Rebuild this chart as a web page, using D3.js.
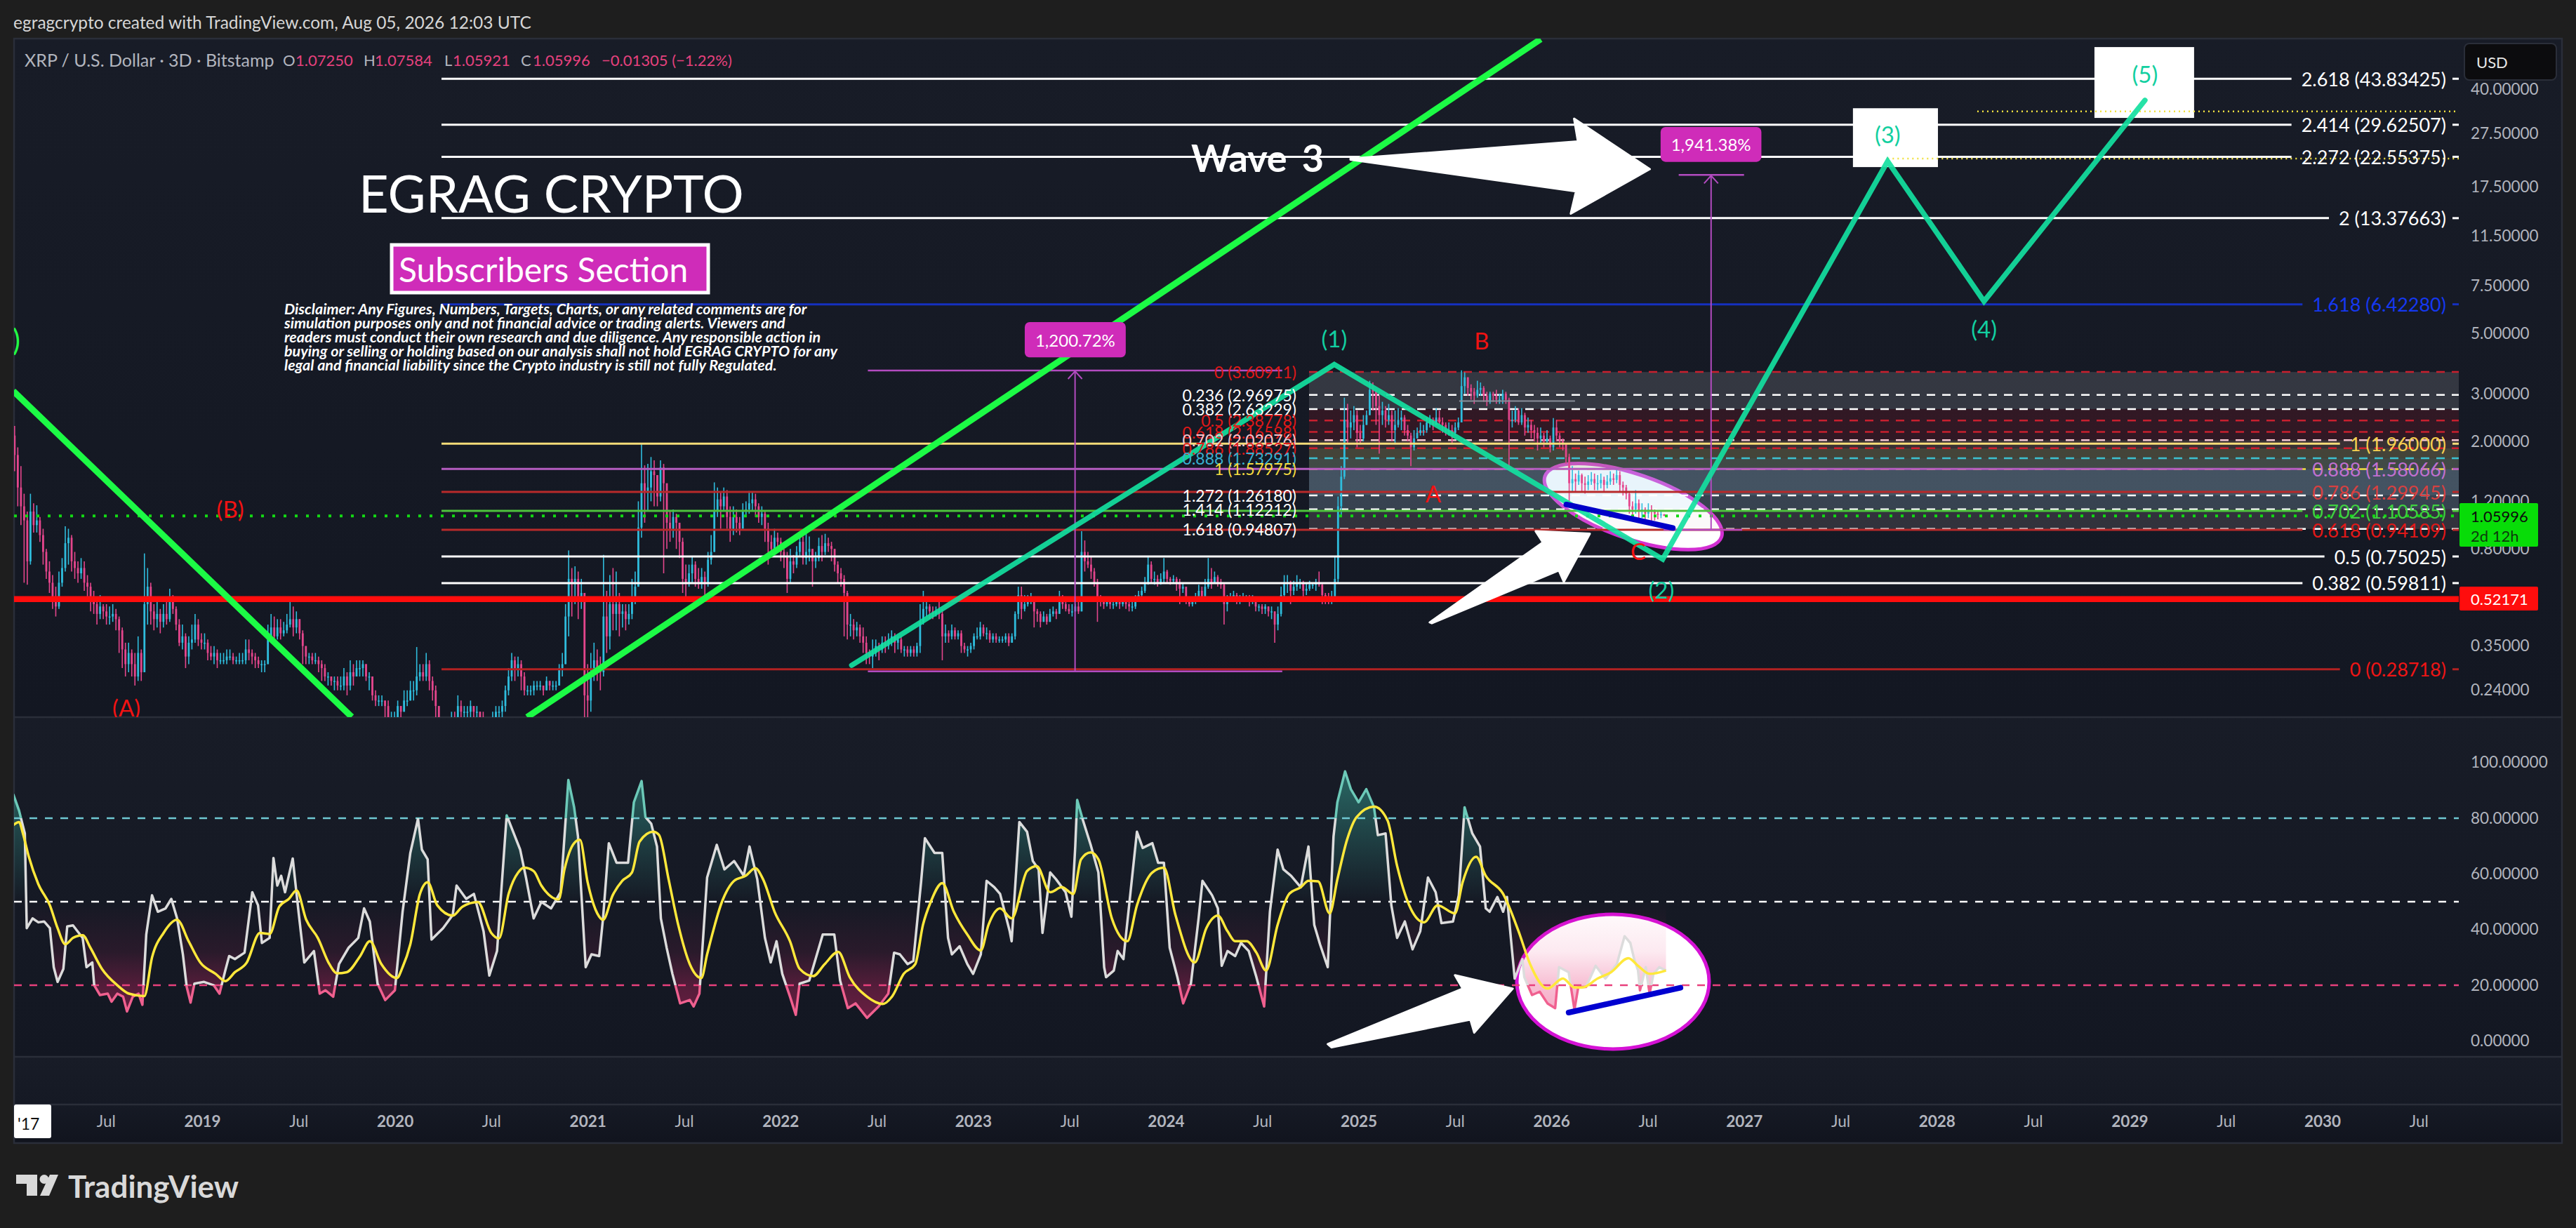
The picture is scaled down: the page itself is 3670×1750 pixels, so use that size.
<!DOCTYPE html>
<html>
<head>
  <meta charset="utf-8">
  <script src="https://cdn.jsdelivr.net/npm/d3@7"></script>
  <style type="text/css">
    html, body { margin: 0; padding: 0; background: #1e1e1e; }
    svg { display: block; font-family: Lato, "Open Sans", sans-serif; }
    .axis path { display: none; }
    .axis text { fill: #b2b5be; font-size: 22.5px; font-family: Lato, sans-serif; }
  </style>
</head>
<body>
<script type="text/javascript">

// 3D price bars, one every 6 days from 2018.027 (10 bars per row)
const barCloses = [
  1.78,1.35,1.15,1.02,0.72,1.10,0.98,1.02,0.90,0.78,
  0.66,0.60,0.52,0.49,0.60,0.68,0.84,0.88,0.72,0.68,
  0.65,0.68,0.60,0.58,0.52,0.50,0.46,0.49,0.47,0.45,
  0.45,0.46,0.44,0.40,0.34,0.30,0.33,0.30,0.27,0.33,
  0.28,0.50,0.58,0.47,0.44,0.46,0.43,0.46,0.44,0.52,
  0.48,0.42,0.36,0.38,0.32,0.36,0.37,0.42,0.37,0.36,
  0.36,0.33,0.32,0.33,0.31,0.31,0.31,0.32,0.32,0.31,
  0.31,0.31,0.31,0.34,0.33,0.32,0.31,0.30,0.30,0.30,
  0.37,0.41,0.38,0.41,0.39,0.40,0.42,0.44,0.41,0.44,
  0.39,0.35,0.32,0.32,0.31,0.31,0.30,0.29,0.27,0.27,
  0.26,0.26,0.25,0.25,0.27,0.25,0.28,0.27,0.29,0.29,
  0.30,0.27,0.27,0.23,0.22,0.22,0.22,0.21,0.19,0.19,
  0.19,0.21,0.20,0.22,0.22,0.24,0.24,0.27,0.28,0.27,
  0.30,0.26,0.24,0.21,0.15,0.15,0.17,0.18,0.19,0.18,
  0.21,0.20,0.20,0.20,0.21,0.20,0.20,0.19,0.18,0.18,
  0.18,0.19,0.20,0.20,0.21,0.24,0.27,0.31,0.29,0.30,
  0.27,0.24,0.24,0.24,0.25,0.25,0.25,0.24,0.26,0.25,
  0.25,0.25,0.29,0.30,0.45,0.62,0.60,0.62,0.52,0.55,
  0.23,0.22,0.28,0.31,0.29,0.28,0.45,0.38,0.50,0.46,
  0.50,0.46,0.47,0.44,0.46,0.52,0.58,0.96,1.40,1.30,
  1.35,1.55,1.50,1.25,1.60,1.40,1.00,0.95,1.05,1.00,
  0.85,0.62,0.60,0.65,0.70,0.62,0.60,0.63,0.60,0.73,
  0.78,1.10,1.22,1.15,1.25,1.05,0.95,1.05,1.00,0.95,
  1.10,1.12,1.18,1.22,1.15,1.05,1.08,0.95,0.85,0.80,
  0.88,0.85,0.78,0.75,0.62,0.72,0.70,0.78,0.85,0.74,
  0.78,0.80,0.72,0.74,0.82,0.78,0.84,0.82,0.80,0.70,
  0.65,0.62,0.55,0.42,0.42,0.40,0.41,0.38,0.36,0.33,
  0.32,0.33,0.35,0.34,0.36,0.35,0.37,0.38,0.36,0.37,
  0.34,0.34,0.33,0.34,0.33,0.35,0.43,0.48,0.49,0.47,
  0.46,0.47,0.46,0.38,0.39,0.38,0.40,0.38,0.39,0.35,
  0.34,0.34,0.35,0.38,0.38,0.41,0.39,0.39,0.37,0.38,
  0.37,0.37,0.37,0.38,0.36,0.38,0.46,0.54,0.48,0.50,
  0.51,0.52,0.47,0.46,0.43,0.45,0.43,0.46,0.47,0.46,
  0.52,0.50,0.48,0.47,0.47,0.49,0.47,0.78,0.72,0.70,
  0.66,0.60,0.52,0.51,0.50,0.52,0.50,0.50,0.51,0.50,
  0.51,0.50,0.49,0.49,0.52,0.54,0.56,0.60,0.70,0.62,
  0.62,0.60,0.62,0.66,0.62,0.61,0.62,0.60,0.57,0.58,
  0.52,0.50,0.51,0.53,0.56,0.53,0.58,0.62,0.60,0.63,
  0.60,0.59,0.50,0.52,0.53,0.54,0.52,0.52,0.52,0.53,
  0.51,0.52,0.49,0.49,0.48,0.49,0.47,0.47,0.42,0.46,
  0.54,0.60,0.60,0.56,0.58,0.60,0.60,0.56,0.57,0.59,
  0.59,0.60,0.59,0.54,0.53,0.52,0.53,0.62,1.15,1.48,
  2.40,2.25,2.35,2.50,2.15,2.05,2.30,2.50,3.10,3.05,
  2.70,2.50,2.60,2.40,2.50,2.20,2.30,2.40,2.45,2.20,
  2.10,1.90,2.05,2.15,2.20,2.20,2.35,2.40,2.30,2.45,
  2.35,2.30,2.20,2.20,2.15,2.25,2.35,3.20,3.45,3.15,
  3.05,2.95,3.10,3.15,2.95,2.80,3.00,2.95,2.85,2.85,
  3.00,2.85,2.40,2.40,2.60,2.35,2.50,2.25,2.30,2.20,
  2.15,2.05,2.10,2.00,2.05,1.90,2.25,2.10,2.00,1.95,
  1.75,1.40,1.45,1.42,1.50,1.40,1.38,1.42,1.45,1.40,
  1.40,1.44,1.38,1.42,1.46,1.44,1.50,1.38,1.35,1.28,
  1.15,1.12,1.18,1.10,1.12,1.08,1.12,1.10,1.08,1.07,
  1.075,1.06
];
const barHighs = [
  2.28,1.90,1.62,1.28,1.10,1.28,1.18,1.16,1.05,0.95,
  0.80,0.72,0.64,0.58,0.66,0.74,0.97,0.95,0.90,0.78,
  0.72,0.74,0.72,0.64,0.60,0.56,0.52,0.54,0.50,0.50,
  0.49,0.50,0.48,0.45,0.41,0.36,0.36,0.34,0.33,0.38,
  0.34,0.77,0.68,0.60,0.50,0.52,0.48,0.50,0.52,0.57,
  0.54,0.49,0.44,0.42,0.39,0.38,0.42,0.46,0.44,0.39,
  0.39,0.37,0.35,0.35,0.34,0.33,0.33,0.34,0.34,0.33,
  0.32,0.33,0.33,0.37,0.37,0.34,0.33,0.32,0.31,0.31,
  0.42,0.46,0.45,0.44,0.44,0.43,0.46,0.51,0.49,0.47,
  0.44,0.40,0.35,0.33,0.33,0.33,0.32,0.31,0.30,0.28,
  0.27,0.27,0.27,0.27,0.29,0.28,0.31,0.30,0.31,0.31,
  0.31,0.30,0.28,0.27,0.24,0.23,0.23,0.22,0.22,0.20,
  0.20,0.22,0.21,0.24,0.24,0.26,0.26,0.347,0.30,0.30,
  0.33,0.31,0.27,0.25,0.21,0.18,0.18,0.19,0.20,0.20,
  0.23,0.22,0.21,0.21,0.22,0.21,0.21,0.20,0.20,0.19,
  0.19,0.20,0.21,0.21,0.22,0.25,0.29,0.33,0.32,0.32,
  0.31,0.28,0.25,0.25,0.26,0.26,0.26,0.25,0.27,0.26,
  0.26,0.26,0.30,0.33,0.50,0.79,0.68,0.69,0.66,0.62,
  0.50,0.30,0.33,0.36,0.34,0.32,0.76,0.56,0.64,0.68,
  0.66,0.55,0.50,0.50,0.50,0.62,0.66,1.20,1.96,1.63,
  1.65,1.75,1.70,1.50,1.70,1.65,1.20,1.10,1.12,1.08,
  0.95,0.88,0.70,0.70,0.75,0.72,0.68,0.68,0.66,0.78,
  0.90,1.41,1.35,1.30,1.35,1.32,1.15,1.15,1.12,1.05,
  1.18,1.20,1.31,1.30,1.28,1.18,1.15,1.10,1.00,0.90,
  0.95,0.92,0.88,0.80,0.78,0.80,0.76,0.82,0.91,0.89,
  0.92,0.89,0.80,0.78,0.88,0.90,0.91,0.88,0.85,0.80,
  0.72,0.68,0.64,0.56,0.46,0.44,0.43,0.42,0.41,0.38,
  0.34,0.37,0.37,0.36,0.38,0.38,0.39,0.40,0.39,0.38,
  0.38,0.35,0.35,0.35,0.35,0.36,0.50,0.56,0.52,0.50,
  0.49,0.49,0.52,0.48,0.42,0.40,0.42,0.41,0.40,0.40,
  0.36,0.35,0.36,0.39,0.41,0.43,0.42,0.41,0.40,0.39,
  0.39,0.38,0.38,0.39,0.39,0.39,0.47,0.58,0.58,0.54,
  0.54,0.55,0.53,0.48,0.47,0.47,0.46,0.48,0.49,0.48,
  0.56,0.54,0.53,0.50,0.50,0.50,0.52,0.93,0.86,0.78,
  0.75,0.68,0.62,0.54,0.53,0.53,0.52,0.52,0.53,0.52,
  0.53,0.52,0.51,0.51,0.54,0.56,0.58,0.63,0.75,0.72,
  0.66,0.64,0.65,0.74,0.67,0.63,0.64,0.63,0.62,0.60,
  0.55,0.53,0.52,0.55,0.59,0.58,0.62,0.74,0.68,0.66,
  0.64,0.62,0.60,0.54,0.55,0.56,0.55,0.54,0.55,0.54,
  0.54,0.54,0.52,0.50,0.50,0.50,0.49,0.49,0.47,0.49,
  0.58,0.64,0.64,0.61,0.61,0.64,0.62,0.61,0.60,0.61,
  0.60,0.62,0.66,0.60,0.55,0.55,0.56,0.75,1.25,1.62,
  2.90,2.75,2.60,2.70,2.60,2.30,2.50,2.60,3.35,3.30,
  3.10,2.95,2.80,2.70,2.75,2.60,2.60,2.65,2.60,2.50,
  2.30,2.15,2.20,2.25,2.35,2.30,2.45,2.50,2.45,2.65,
  2.60,2.45,2.35,2.35,2.30,2.35,2.45,3.66,3.60,3.45,
  3.25,3.15,3.35,3.30,3.20,3.05,3.05,3.05,3.10,3.00,
  3.10,3.05,2.90,2.60,2.70,2.65,2.65,2.55,2.45,2.40,
  2.30,2.25,2.25,2.15,2.20,2.10,2.44,2.40,2.15,2.05,
  1.95,1.80,1.62,1.52,1.56,1.52,1.48,1.50,1.54,1.52,
  1.50,1.52,1.48,1.50,1.55,1.52,1.58,1.55,1.42,1.38,
  1.30,1.20,1.32,1.22,1.18,1.14,1.18,1.16,1.12,1.10,
  1.10,1.076
];
const barLows = [
  1.55,1.15,0.98,0.60,0.59,0.70,0.92,0.92,0.85,0.70,
  0.62,0.55,0.48,0.45,0.48,0.58,0.66,0.70,0.66,0.62,
  0.60,0.62,0.56,0.52,0.47,0.46,0.42,0.44,0.44,0.42,
  0.42,0.43,0.40,0.33,0.29,0.27,0.28,0.27,0.25,0.26,
  0.26,0.28,0.42,0.42,0.40,0.41,0.39,0.41,0.42,0.43,
  0.46,0.40,0.35,0.34,0.29,0.30,0.34,0.36,0.35,0.34,
  0.34,0.31,0.31,0.30,0.29,0.30,0.30,0.30,0.31,0.30,
  0.30,0.30,0.30,0.30,0.31,0.30,0.29,0.29,0.28,0.28,
  0.30,0.36,0.36,0.37,0.37,0.38,0.39,0.41,0.38,0.39,
  0.37,0.30,0.30,0.30,0.30,0.30,0.28,0.26,0.26,0.25,
  0.25,0.24,0.24,0.24,0.24,0.23,0.24,0.25,0.27,0.27,
  0.27,0.26,0.24,0.22,0.21,0.21,0.21,0.19,0.18,0.18,
  0.18,0.19,0.19,0.20,0.21,0.22,0.22,0.23,0.26,0.26,
  0.26,0.24,0.22,0.19,0.11,0.13,0.14,0.16,0.17,0.17,
  0.18,0.19,0.19,0.19,0.19,0.19,0.19,0.17,0.17,0.17,
  0.17,0.17,0.18,0.19,0.19,0.20,0.23,0.26,0.26,0.27,
  0.24,0.23,0.23,0.23,0.23,0.24,0.24,0.23,0.24,0.24,
  0.24,0.24,0.25,0.27,0.30,0.38,0.45,0.50,0.44,0.48,
  0.19,0.17,0.20,0.26,0.26,0.24,0.27,0.33,0.34,0.40,
  0.40,0.38,0.41,0.40,0.42,0.44,0.50,0.58,0.88,1.00,
  1.10,1.20,1.15,1.15,1.20,0.65,0.80,0.85,0.88,0.80,
  0.74,0.55,0.52,0.58,0.60,0.58,0.57,0.57,0.52,0.58,
  0.70,0.78,1.05,0.95,1.10,0.95,0.85,0.90,0.92,0.90,
  1.00,1.05,1.08,1.10,1.05,1.00,0.98,0.85,0.70,0.75,
  0.80,0.80,0.72,0.68,0.55,0.60,0.65,0.68,0.75,0.70,
  0.70,0.72,0.58,0.68,0.72,0.72,0.76,0.78,0.72,0.66,
  0.60,0.58,0.38,0.37,0.38,0.37,0.38,0.36,0.33,0.30,
  0.30,0.29,0.32,0.31,0.33,0.33,0.34,0.35,0.33,0.34,
  0.33,0.32,0.32,0.32,0.32,0.32,0.33,0.42,0.45,0.44,
  0.44,0.45,0.44,0.31,0.36,0.36,0.37,0.37,0.37,0.33,
  0.33,0.32,0.33,0.34,0.37,0.37,0.38,0.37,0.36,0.36,
  0.36,0.36,0.36,0.36,0.35,0.36,0.37,0.44,0.44,0.47,
  0.49,0.50,0.41,0.43,0.41,0.43,0.42,0.43,0.45,0.44,
  0.48,0.48,0.47,0.46,0.45,0.47,0.46,0.47,0.66,0.68,
  0.62,0.58,0.43,0.49,0.48,0.49,0.48,0.48,0.49,0.48,
  0.49,0.48,0.47,0.47,0.48,0.51,0.53,0.55,0.59,0.60,
  0.59,0.58,0.59,0.60,0.60,0.59,0.60,0.56,0.50,0.55,
  0.50,0.49,0.49,0.50,0.51,0.52,0.53,0.57,0.57,0.60,
  0.58,0.57,0.42,0.47,0.51,0.52,0.50,0.50,0.51,0.51,
  0.49,0.50,0.47,0.47,0.46,0.46,0.45,0.44,0.36,0.40,
  0.45,0.53,0.55,0.50,0.54,0.56,0.57,0.53,0.54,0.56,
  0.57,0.56,0.58,0.50,0.50,0.50,0.50,0.51,0.60,1.05,
  1.45,1.95,2.05,2.20,1.90,1.95,2.00,2.30,2.50,2.60,
  2.30,1.80,2.30,2.25,2.30,2.00,1.95,2.25,2.20,2.10,
  2.00,1.62,1.85,2.05,2.10,2.10,2.15,2.25,2.20,2.30,
  2.30,2.15,2.10,2.10,1.95,2.10,2.20,2.40,3.00,2.95,
  2.85,2.75,2.90,2.95,2.80,2.70,2.75,2.80,2.75,2.75,
  2.75,2.75,1.58,2.25,2.35,2.30,2.30,2.10,2.15,2.05,
  2.00,1.85,1.95,1.90,1.95,1.82,1.85,2.00,1.90,1.85,
  1.65,1.16,1.30,1.30,1.38,1.30,1.28,1.32,1.38,1.32,
  1.32,1.34,1.30,1.34,1.38,1.38,1.40,1.30,1.26,1.22,
  1.08,1.02,1.08,1.02,1.04,1.02,1.04,1.00,1.02,1.03,
  1.04,1.059
];

// oscillator, [year, value]
const rsiPoints = [
  [2018.02,88.6],[2018.05,82.7],[2018.08,74.5],[2018.09,40.5],[2018.12,44],[2018.15,42.6],[2018.18,42.9],[2018.21,40.5],[2018.23,26.5],[2018.25,21.2],
  [2018.28,25.9],[2018.30,41.1],[2018.33,41.5],[2018.36,38.8],[2018.38,37],[2018.40,26.5],[2018.43,28.2],[2018.44,20],[2018.47,16.5],[2018.51,17],
  [2018.53,14.1],[2018.56,17],[2018.59,15.9],[2018.61,10.6],[2018.64,15.9],[2018.67,17],[2018.69,13],[2018.71,38.2],[2018.74,52.3],[2018.77,46.4],
  [2018.81,47.6],[2018.84,51],[2018.87,44],[2018.90,31.1],[2018.92,19.4],[2018.94,13.8],[2018.96,20.6],[2019.01,21.2],[2019.06,20],[2019.09,17],
  [2019.12,25.3],[2019.14,30.5],[2019.17,29.4],[2019.22,31.7],[2019.26,53.4],[2019.29,48.7],[2019.31,35.2],[2019.35,37],[2019.37,65.7],[2019.39,55.8],
  [2019.41,59.3],[2019.43,53.4],[2019.47,65.5],[2019.50,46.4],[2019.53,28.2],[2019.58,32.3],[2019.61,17],[2019.64,18.2],[2019.68,15.9],[2019.71,27.6],
  [2019.76,33.5],[2019.81,37],[2019.84,47.6],[2019.87,42.9],[2019.91,20.6],[2019.95,14.7],[2020.00,18.2],[2020.04,46.4],[2020.08,67.5],[2020.12,79.8],
  [2020.14,68.7],[2020.17,65.2],[2020.19,36.4],[2020.25,40.5],[2020.30,45.2],[2020.32,55.8],[2020.37,51],[2020.41,52.8],[2020.46,39.4],[2020.49,23.5],
  [2020.53,32.3],[2020.58,81],[2020.61,75.7],[2020.65,68.7],[2020.68,58.7],[2020.72,44],[2020.76,49.9],[2020.81,47.6],[2020.86,53.4],[2020.90,93.7],
  [2020.93,83.9],[2020.95,73.4],[2020.99,26.5],[2021.02,31.1],[2021.06,30.5],[2021.08,44],[2021.11,71],[2021.15,64],[2021.21,64],[2021.24,85.7],
  [2021.28,93.3],[2021.30,80.4],[2021.33,78],[2021.36,69.8],[2021.38,44],[2021.41,33.5],[2021.44,24.1],[2021.48,13.5],[2021.53,14.7],[2021.55,12.4],
  [2021.58,17],[2021.62,58.7],[2021.67,70.4],[2021.71,61.6],[2021.76,64.6],[2021.81,59.3],[2021.84,69.8],[2021.88,58.1],[2021.92,37],[2021.95,28.2],
  [2021.98,35.8],[2022.01,24.1],[2022.05,15.9],[2022.08,9.4],[2022.10,20.6],[2022.15,21.7],[2022.22,38.2],[2022.28,38.2],[2022.31,21.7],[2022.35,11.8],
  [2022.39,13.5],[2022.45,8.3],[2022.51,12.4],[2022.56,17],[2022.59,31.7],[2022.62,31.1],[2022.66,27.6],[2022.69,28.8],[2022.73,57],[2022.75,72.8],
  [2022.80,67.5],[2022.84,67.5],[2022.87,37],[2022.89,31.1],[2022.93,34],[2022.97,27.6],[2023.00,24.1],[2023.04,31.1],[2023.07,57.5],[2023.11,55.2],
  [2023.14,52.8],[2023.19,39.4],[2023.20,35.8],[2023.24,78.6],[2023.28,75.1],[2023.31,64.6],[2023.34,61.6],[2023.36,38.8],[2023.40,60.5],[2023.43,58.1],
  [2023.48,53.4],[2023.51,44.6],[2023.53,69.8],[2023.54,86.5],[2023.57,79.2],[2023.61,70.4],[2023.65,60.5],[2023.68,26.5],[2023.69,22.9],[2023.73,25.3],
  [2023.75,32.3],[2023.78,29.4],[2023.85,75.1],[2023.88,69.3],[2023.93,71],[2023.96,64],[2023.99,64],[2024.02,33.5],[2024.06,22.9],[2024.09,13.5],
  [2024.13,20.6],[2024.17,44],[2024.19,57.5],[2024.24,52.3],[2024.27,47.6],[2024.29,27],[2024.32,32.3],[2024.36,30.5],[2024.39,35.2],[2024.43,32.3],
  [2024.47,22.9],[2024.51,12.4],[2024.54,46.4],[2024.58,68.7],[2024.61,61.6],[2024.65,59.3],[2024.70,55.2],[2024.74,69.8],[2024.77,41.7],[2024.80,34.7],
  [2024.84,26.5],[2024.87,73.4],[2024.89,85.7],[2024.93,96.8],[2024.96,90.4],[2025.00,85.7],[2025.04,90.4],[2025.08,83.9],[2025.10,73.9],[2025.14,74.5],
  [2025.17,48.7],[2025.20,37],[2025.24,42.9],[2025.28,32.9],[2025.32,39.4],[2025.36,58.7],[2025.40,53.4],[2025.43,42.3],[2025.49,42.9],[2025.52,52.3],
  [2025.55,83.9],[2025.59,74.5],[2025.63,69.8],[2025.66,47.6],[2025.68,46.4],[2025.72,51.7],[2025.75,46.4],[2025.77,51.7],[2025.81,22.4],[2025.85,29.4],
  [2025.86,22.9],[2025.90,16.5],[2025.94,17.7],[2025.98,13.5],[2026.02,11.8],[2026.04,26.5],[2026.09,24.7],[2026.12,11.2],[2026.14,19.4],[2026.18,19.4],
  [2026.23,27],[2026.28,22.4],[2026.34,27.6],[2026.38,37.6],[2026.41,35.2],[2026.43,29.4],[2026.45,25.3],[2026.46,18.2],[2026.49,26.5],[2026.51,17],
  [2026.53,24.1],[2026.56,26.5],[2026.595,25.3]
];
const maPoints = [
  [2018.02,77.5],[2018.05,78.6],[2018.07,74.5],[2018.10,66.3],[2018.15,56.3],[2018.21,48.7],[2018.25,40.5],[2018.29,34.7],[2018.33,37],[2018.38,38],
  [2018.42,33.5],[2018.48,25.9],[2018.56,20],[2018.62,17],[2018.70,16.1],[2018.74,30],[2018.80,38.8],[2018.87,43.5],[2018.93,35.8],[2018.99,28.2],
  [2019.07,24.1],[2019.12,21.5],[2019.17,24.7],[2019.23,28],[2019.30,38.8],[2019.35,38.4],[2019.40,48.2],[2019.45,51],[2019.49,54],[2019.54,43.5],
  [2019.60,37],[2019.66,27.6],[2019.70,24.3],[2019.75,24.7],[2019.82,30.5],[2019.87,35.8],[2019.93,27.6],[2020.01,22.6],[2020.04,26.5],[2020.08,34.7],
  [2020.13,52.8],[2020.17,57],[2020.22,48.7],[2020.30,45],[2020.35,48.2],[2020.43,49.9],[2020.50,38.8],[2020.54,36.8],[2020.59,52.8],[2020.64,60.5],
  [2020.67,62.2],[2020.72,61],[2020.76,55.8],[2020.85,50.8],[2020.88,61.6],[2020.93,71],[2020.96,72.2],[2021.00,57],[2021.05,45.8],[2021.08,43.5],
  [2021.13,52.3],[2021.18,57.5],[2021.23,60.5],[2021.27,71.6],[2021.34,75.1],[2021.37,74],[2021.42,58.1],[2021.47,41.7],[2021.53,27.6],[2021.59,22.6],
  [2021.62,31.1],[2021.70,50.5],[2021.76,57.5],[2021.82,59.3],[2021.87,62],[2021.91,58.1],[2021.97,46.4],[2022.05,35.8],[2022.10,25.9],[2022.17,23.3],
  [2022.23,27.6],[2022.30,32],[2022.36,22.9],[2022.45,15.9],[2022.53,13.3],[2022.58,16],[2022.64,24.1],[2022.70,27.6],[2022.74,41.7],[2022.78,49.9],
  [2022.84,56.7],[2022.90,46.4],[2022.97,38.2],[2023.04,32.5],[2023.08,41.7],[2023.14,47.6],[2023.20,44],[2023.28,61],[2023.33,62.8],[2023.40,53.4],
  [2023.46,55.2],[2023.52,52.8],[2023.56,65.2],[2023.61,67.7],[2023.65,65.2],[2023.72,44],[2023.80,35.8],[2023.85,48.7],[2023.93,60.5],[2023.99,62.2],
  [2024.05,45.2],[2024.15,28.2],[2024.21,40.5],[2024.27,45],[2024.32,39.4],[2024.36,35.8],[2024.42,35.8],[2024.47,31.7],[2024.52,25.3],[2024.58,41.7],
  [2024.64,52.8],[2024.70,55.2],[2024.74,57.5],[2024.79,57.3],[2024.85,45.8],[2024.89,58],[2024.94,72.2],[2024.99,80.4],[2025.08,84.1],[2025.15,79.2],
  [2025.20,62.8],[2025.27,47.6],[2025.34,42.6],[2025.41,48.7],[2025.50,45.8],[2025.54,57],[2025.61,66.1],[2025.66,59.3],[2025.75,52.8],[2025.83,39.4],
  [2025.89,27.6],[2025.98,18.8],[2026.06,22.4],[2026.12,19.2],[2026.16,19.2],[2026.24,22.4],[2026.31,24.7],[2026.40,29.7],[2026.45,27],[2026.51,24.1],
  [2026.595,25.3]
];

// fib extension with solid lines and right hand labels
const extLevels = ['2.618','2.414','2.272','2','1.618','1','0.888','0.786','0.702','0.618','0.5','0.382','0'];
const extPrices = [43.83425,29.62507,22.55375,13.37663,6.42280,1.96000,1.58066,1.29945,1.10585,0.94109,0.75025,0.59811,0.28718];
const extColors = ['#ffffff','#ffffff','#ffffff','#ffffff','#1530c0','#f5dc78','#b55cc0','#b82a2a','#4fc13e','#b82a2a','#ffffff','#ffffff','#b22222'];
const extTextColors = ['#ffffff','#ffffff','#ffffff','#ffffff','#1538f0','#f5cf50','#c070d0','#d84040','#3fd040','#e01818','#ffffff','#ffffff','#ee1515'];

// fib retracement with dashed lines and left hand labels
const retLevels = ['0','0.236','0.382','0.5','0.618','0.702','0.786','0.888','1','1.272','1.414','1.618'];
const retPrices = [3.60911,2.96975,2.63229,2.38778,2.16598,2.02076,1.88527,1.73291,1.57975,1.26180,1.12212,0.94807];
const retColors = ['#c8202e','#ffffff','#ffffff','#c8202e','#c8202e','#f4c6d0','#d0202e','#3cc0d0','#f2e040','#ffffff','#ffffff','#ffffff'];
const retTextColors = ['#e01818','#ffffff','#ffffff','#e01818','#e01818','#f4c6d0','#e01818','#38b0d0','#f5dc40','#ffffff','#ffffff','#ffffff'];
const bandEdges = [3.60911,2.63229,2.02076,1.88527,1.73291,1.57975,1.26180,1.12212,0.94807];
const bandColors = ['rgba(240,240,250,.14)','rgba(180,20,40,.18)','rgba(200,140,120,.2)','rgba(190,180,110,.28)','rgba(170,190,150,.3)','rgba(180,219,243,.3)','rgba(180,219,243,.22)','rgba(230,210,215,.14)'];

// elliott wave path and the labels, [year, price]
const wavePoints = [[2022.37,0.297],[2024.874,3.85],[2026.578,0.733],[2027.745,21.7],[2028.245,6.59],[2029.08,36.5]];
const waveLabels = [['(1)',2024.874,4.82],['(2)',2026.571,0.567],['(3)',2027.745,27.4],['(4)',2028.245,5.23],['(5)',2029.08,45.9]];
const redLabels = [['(B)',2019.146,1.127],['(A)',2018.607,0.208],['A',2025.387,1.288],['B',2025.639,4.73],['C',2026.451,0.787]];
const channelDown = [[2018.02,3.07],[2019.776,0.1915]];
const channelUp = [[2020.686,0.191],[2025.945,61.4]];
const priceTrend = [[2026.078,1.168],[2026.63,0.957]];
const rsiTrend = [[2026.09,10.2],[2026.67,19.1]];
const wave3Arrow = [[2024.958,22.2],[2026.138,25.7],[2026.118,31.2],[2026.511,20.3],[2026.101,13.9],[2026.128,16.8],[2024.958,22]];
const priceArrow = [[2025.369,0.428],[2025.956,0.846],[2025.919,0.93],[2026.2,0.911],[2026.065,0.605],[2026.039,0.666],[2025.38,0.425]];
const rsiArrow = [[2024.84,-1.1],[2025.54,18.8],[2025.50,23.6],[2025.80,18.8],[2025.60,3],[2025.58,7.7],[2024.86,-2.3]];
const waveBoxes = [[2027.565,2028.006,34.1,20.66],[2028.818,2029.335,57.4,31.4]];
const dottedYellow = [[2027.745,22.2],[2028.21,33.2]];

const currentPrice = 1.05996;
const supportPrice = 0.52171;
const priceTicks = [40,27.5,17.5,11.5,7.5,5,3,2,1.2,0.8,0.35,0.24];
const rsiTicks = [100,80,60,40,20,0];
const rsiLevels = [80,50,20];
const rsiLevelColors = ['#6fc8d2','#ffffff','#e8407c'];
const timeTicks = [2018.5,2019,2019.5,2020,2020.5,2021,2021.5,2022,2022.5,2023,2023.5,2024,2024.5,2025,2025.5,2026,2026.5,2027,2027.5,2028,2028.5,2029,2029.5,2030,2030.5];

const disclaimer = [
  'Disclaimer: Any Figures, Numbers, Targets, Charts, or any related comments are for',
  'simulation purposes only and not financial advice or trading alerts. Viewers and',
  'readers must conduct their own research and due diligence. Any responsible action in',
  'buying or selling or holding based on our analysis shall not hold EGRAG CRYPTO for any',
  'legal and financial liability since the Crypto industry is still not fully Regulated.'
];

const W = 3670, H = 1750;
const plotL = 20, plotR = 3503, panelR = 3650;
const priceTop = 55, priceBot = 1022, rsiBot = 1506, emptyBot = 1574, axisBot = 1629;

const svg = d3.select('body').append('svg').attr('width', W).attr('height', H);
const defs = svg.append('defs');

// scales
const x = d3.scaleLinear().domain([2019, 2030]).range([288, 3308.5]);
const yP = d3.scaleLog().domain([61.7, 0.191]).range([priceTop, priceBot]);
const yR = d3.scaleLinear().domain([0, 100]).range([1483.5, 1086.5]);
const barYear = i => 2018.027 + i * 6 / 365.25;

function vGrad(id, y1, y2, stops) {
  const g = defs.append('linearGradient').attr('id', id).attr('gradientUnits', 'userSpaceOnUse')
    .attr('x1', 0).attr('x2', 0).attr('y1', y1).attr('y2', y2);
  stops.forEach(s => g.append('stop').attr('offset', s[0]).attr('stop-color', s[1]).attr('stop-opacity', s[2] === undefined ? 1 : s[2]));
}
vGrad('bgPrice', priceTop, priceBot, [[0, '#181c27'], [1, '#131722']]);
vGrad('bgRsi', priceBot, rsiBot, [[0, '#181c27'], [1, '#131722']]);
vGrad('bgEmpty', rsiBot, emptyBot, [[0, '#181c27'], [1, '#151924']]);
vGrad('bgAxis', emptyBot, axisBot, [[0, '#161a25'], [1, '#11141e']]);
// area fill under the oscillator, teal up high and pink down low
vGrad('rsiFill', yR(100), yR(0), [[0, '#3cbeaa', .5], [.2, '#3cbeaa', .3], [.5, '#3cbeaa', 0], [.5, '#e6286e', 0], [.68, '#e6286e', .1], [.8, '#e6286e', .3], [1, '#e6286e', .5]]);
vGrad('rsiStroke', yR(100), yR(0), [[0, '#6cc9b8'], [.2, '#6cc9b8'], [.2, '#dcdcdc'], [.8, '#dcdcdc'], [.8, '#f0608f'], [1, '#f0608f']]);

defs.append('clipPath').attr('id', 'clipPrice').append('rect').attr('x', plotL).attr('y', priceTop).attr('width', plotR - plotL).attr('height', priceBot - priceTop);
defs.append('clipPath').attr('id', 'clipRsi').append('rect').attr('x', plotL).attr('y', priceBot).attr('width', plotR - plotL).attr('height', rsiBot - priceBot);

// panes
[['bgPrice', priceTop, priceBot], ['bgRsi', priceBot, rsiBot], ['bgEmpty', rsiBot, emptyBot], ['bgAxis', emptyBot, axisBot]].forEach(p => {
  svg.append('rect').attr('x', plotL).attr('y', p[1]).attr('width', panelR - plotL).attr('height', p[2] - p[1]).attr('fill', `url(#${p[0]})`);
});
[priceBot, rsiBot, emptyBot].forEach(v => {
  svg.append('line').attr('x1', plotL).attr('x2', panelR).attr('y1', v).attr('y2', v).attr('stroke', '#2a2e39').attr('stroke-width', 2.5);
});
svg.append('rect').attr('x', plotL).attr('y', priceTop).attr('width', panelR - plotL).attr('height', axisBot - priceTop)
  .attr('fill', 'none').attr('stroke', '#2a2e39').attr('stroke-width', 2.5);

// price pane
const gP = svg.append('g').attr('clip-path', 'url(#clipPrice)');
const poly = (g, pts, yScale, fill) => g.append('path')
  .attr('d', 'M' + pts.map(p => `${x(p[0])},${yScale(p[1])}`).join('L') + 'Z')
  .attr('fill', fill).attr('stroke', fill).attr('stroke-width', 3).attr('stroke-linejoin', 'round');
const seg = (g, pts, yScale, color, width, dash, cap) => g.append('path')
  .attr('d', d3.line().x(p => x(p[0])).y(p => yScale(p[1]))(pts))
  .attr('fill', 'none').attr('stroke', color).attr('stroke-width', width)
  .attr('stroke-dasharray', dash || null).attr('stroke-linecap', cap || 'butt').attr('stroke-linejoin', 'miter');
const hline = (g, a, b, v, color, width, dash) => g.append('line')
  .attr('x1', a).attr('x2', b).attr('y1', yP(v)).attr('y2', yP(v))
  .attr('stroke', color).attr('stroke-width', width).attr('stroke-dasharray', dash || null);

// white ellipse sits under the fib fills, they tint it
const ePrice = [x(2026.425), yP(1.147)];
gP.append('ellipse').attr('cx', 0).attr('cy', 0).attr('rx', 133).attr('ry', 46)
  .attr('transform', `translate(${ePrice[0]},${ePrice[1]}) rotate(19)`)
  .attr('fill', '#ffffff').attr('stroke', '#d22fd2').attr('stroke-width', 5);

const bandLeft = 1865;
bandColors.forEach((c, i) => {
  gP.append('rect').attr('x', bandLeft).attr('width', plotR - bandLeft)
    .attr('y', yP(bandEdges[i])).attr('height', yP(bandEdges[i + 1]) - yP(bandEdges[i])).attr('fill', c);
});

retPrices.forEach((v, i) => hline(gP, bandLeft, plotR, v, retColors[i], 2.5, '12 10'));

// candles
const gBars = gP.append('g');
barCloses.forEach((c, i) => {
  const o = i ? barCloses[i - 1] : 2.1;
  const col = c >= o ? '#2fbcdc' : '#e4468c';
  const bx = x(barYear(i));
  gBars.append('line').attr('x1', bx).attr('x2', bx).attr('y1', yP(barHighs[i])).attr('y2', yP(barLows[i]))
    .attr('stroke', col).attr('stroke-width', 1.6);
  gBars.append('rect').attr('x', bx - 1.4).attr('width', 2.8)
    .attr('y', yP(Math.max(o, c))).attr('height', Math.max(1.5, yP(Math.min(o, c)) - yP(Math.max(o, c))))
    .attr('fill', col);
});

// extension levels, line stops short of its label
const gExtLabels = svg.append('g');
extPrices.forEach((v, i) => {
  const t = gExtLabels.append('text').attr('x', 3485).attr('y', yP(v)).attr('text-anchor', 'end')
    .attr('dominant-baseline', 'central').attr('font-size', 27).attr('fill', extTextColors[i])
    .text(`${extLevels[i]} (${v.toFixed(5)})`);
  const end = 3485 - t.node().getComputedTextLength() - 14;
  hline(gP, 629, end, v, extColors[i], 3);
  hline(gP, 3494, plotR, v, extColors[i], 3);
});

hline(gP, plotL, plotR, supportPrice, '#ff0d0d', 8.5);
hline(gP, plotL, plotR, currentPrice, '#13d913', 4, '4 12');
hline(gP, x(2025.522), x(2026.123), 2.82, '#8a8f9a', 2);

// measure tools
function measure(y0, y1, ym, pTop, pBot, xBotL, xBotR) {
  const col = '#b34bc0';
  hline(gP, x(y0), x(y1), pTop, col, 2.5);
  hline(gP, x(xBotL), x(xBotR), pBot, col, 2.5);
  seg(gP, [[ym, pTop], [ym, pBot]], yP, col, 2);
  const ax = x(ym), ay = yP(pTop);
  gP.append('path').attr('d', `M${ax - 10},${ay + 12}L${ax},${ay + 1}L${ax + 10},${ay + 12}`).attr('fill', 'none').attr('stroke', col).attr('stroke-width', 2);
}
measure(2022.454, 2024.604, 2023.529, 3.655, 0.282, 2022.454, 2024.604);
measure(2026.661, 2027.0, 2026.829, 19.32, 0.942, 2026.582, 2026.99);

seg(gP, channelDown, yP, '#1cfb45', 9);
seg(gP, channelUp, yP, '#1cfb45', 9);

// white boxes behind waves 3 and 5
waveBoxes.forEach(b => {
  gP.append('rect').attr('x', x(b[0])).attr('width', x(b[1]) - x(b[0])).attr('y', yP(b[2])).attr('height', yP(b[3]) - yP(b[2])).attr('fill', '#ffffff');
});
hline(gP, x(dottedYellow[0][0]), plotR, dottedYellow[0][1], '#f0e040', 2.5, '2 5');
hline(gP, x(dottedYellow[1][0]), plotR, dottedYellow[1][1], '#f0e040', 2.5, '2 5');

gP.append('path').attr('d', d3.line().x(p => x(p[0])).y(p => yP(p[1]))(wavePoints))
  .attr('fill', 'none').attr('stroke', '#14e0a0').attr('stroke-opacity', .92).attr('stroke-width', 7.5)
  .attr('stroke-linecap', 'round').attr('stroke-linejoin', 'miter');

seg(gP, priceTrend, yP, '#0000c8', 8, null, 'round');
poly(gP, priceArrow, yP, '#ffffff');
poly(gP, wave3Arrow, yP, '#ffffff');

// percent tags
function tag(y0, y1, pTop, pBot, label) {
  const bx = x(y0), bw = x(y1) - x(y0), by = yP(pTop), bh = yP(pBot) - yP(pTop);
  gP.append('rect').attr('x', bx).attr('y', by).attr('width', bw).attr('height', bh).attr('rx', 7).attr('fill', '#cf2cb9');
  gP.append('text').attr('x', bx + bw / 2).attr('y', by + bh / 2).attr('text-anchor', 'middle').attr('dominant-baseline', 'central')
    .attr('font-size', 24).attr('fill', '#ffffff').text(label);
}
tag(2023.268, 2023.792, 5.52, 4.09, '1,200.72%');
tag(2026.567, 2027.09, 29.05, 21.6, '1,941.38%');

// retracement labels
retPrices.forEach((v, i) => {
  gP.append('text').attr('x', 1847).attr('y', yP(v)).attr('text-anchor', 'end').attr('dominant-baseline', 'central')
    .attr('font-size', 23).attr('fill', retTextColors[i]).text(`${retLevels[i]} (${v.toFixed(5)})`);
});
gExtLabels.raise();

// wave labels
waveLabels.forEach(d => {
  gP.append('text').attr('x', x(d[1])).attr('y', yP(d[2])).attr('text-anchor', 'middle').attr('dominant-baseline', 'central')
    .attr('font-size', 33).attr('fill', '#12cfa0').text(d[0]);
});
redLabels.forEach(d => {
  gP.append('text').attr('x', x(d[1])).attr('y', yP(d[2])).attr('text-anchor', 'middle').attr('dominant-baseline', 'central')
    .attr('font-size', 33).attr('fill', '#f21212').text(d[0]);
});
gP.append('text').attr('x', 29).attr('y', yP(4.75)).attr('text-anchor', 'end').attr('dominant-baseline', 'central')
  .attr('font-size', 42).attr('fill', '#22ff44').text(')');

// titles
gP.append('text').attr('x', 511).attr('y', 274).attr('dominant-baseline', 'central').attr('font-size', 74).attr('fill', '#ffffff').text('EGRAG CRYPTO');
gP.append('rect').attr('x', 558).attr('y', 349).attr('width', 451).attr('height', 68).attr('fill', '#cf2cb9').attr('stroke', '#ffffff').attr('stroke-width', 5);
gP.append('text').attr('x', 568).attr('y', 383).attr('dominant-baseline', 'central').attr('font-size', 48).attr('fill', '#ffffff').text('Subscribers Section');
disclaimer.forEach((t, i) => {
  gP.append('text').attr('x', 405).attr('y', 440 + i * 20).attr('dominant-baseline', 'central').attr('font-size', 21.5)
    .attr('font-style', 'italic').attr('font-weight', 700).attr('fill', '#ffffff').text(t);
});
gP.append('text').attr('x', 1697).attr('y', 224).attr('dominant-baseline', 'central').attr('font-size', 54).attr('font-weight', 700)
  .attr('word-spacing', 8).attr('fill', '#ffffff').text('Wave 3');

// oscillator pane
const gR = svg.append('g').attr('clip-path', 'url(#clipRsi)');
gR.append('ellipse').attr('cx', x(2026.32)).attr('cy', yR(21.3)).attr('rx', 137).attr('ry', 96)
  .attr('fill', '#ffffff').attr('stroke', '#d512d5').attr('stroke-width', 5);
gR.append('path').datum(rsiPoints)
  .attr('d', d3.area().x(p => x(p[0])).y0(yR(50)).y1(p => yR(p[1])))
  .attr('fill', 'url(#rsiFill)');
rsiLevels.forEach((v, i) => {
  gR.append('line').attr('x1', plotL).attr('x2', plotR).attr('y1', yR(v)).attr('y2', yR(v))
    .attr('stroke', rsiLevelColors[i]).attr('stroke-width', 2.5).attr('stroke-dasharray', '11 11');
});
gR.append('path').datum(rsiPoints)
  .attr('d', d3.line().x(p => x(p[0])).y(p => yR(p[1])))
  .attr('fill', 'none').attr('stroke', 'url(#rsiStroke)').attr('stroke-width', 3.5).attr('stroke-linejoin', 'round');
gR.append('path').datum(maPoints)
  .attr('d', d3.line().x(p => x(p[0])).y(p => yR(p[1])).curve(d3.curveMonotoneX))
  .attr('fill', 'none').attr('stroke', '#ffe83b').attr('stroke-width', 3.5);
seg(gR, rsiTrend, yR, '#0000d0', 8, null, 'round');
poly(gR, rsiArrow, yR, '#ffffff');

// axes
svg.append('g').attr('class', 'axis').attr('transform', `translate(${plotR},0)`)
  .call(d3.axisRight(yP).tickValues(priceTicks).tickFormat(d3.format('.5f')).tickSize(0).tickPadding(17));
svg.append('g').attr('class', 'axis').attr('transform', `translate(${plotR},0)`)
  .call(d3.axisRight(yR).tickValues(rsiTicks).tickFormat(d3.format('.5f')).tickSize(0).tickPadding(17));
const axisT = svg.append('g').attr('class', 'axis').attr('transform', `translate(0,1590)`)
  .call(d3.axisBottom(x).tickValues(timeTicks).tickFormat(d => d % 1 ? 'Jul' : d).tickSize(0).tickPadding(0));
axisT.selectAll('text').attr('dy', '.7em').attr('font-weight', d => d % 1 ? 400 : 700);

// last price and support tags
function axisTag(y0, h, fill) {
  svg.append('rect').attr('x', plotR + 1).attr('y', y0).attr('width', 112).attr('height', h).attr('rx', 2).attr('fill', fill);
}
axisTag(717, 62, '#08dc08');
svg.append('text').attr('x', 3520).attr('y', 735).attr('dominant-baseline', 'central').attr('font-size', 22).attr('fill', '#0d0d0d').text(currentPrice.toFixed(5));
svg.append('text').attr('x', 3520).attr('y', 763).attr('dominant-baseline', 'central').attr('font-size', 22).attr('fill', '#0d3a0d').text('2d 12h');
axisTag(836, 34, '#ff0d0d');
svg.append('text').attr('x', 3520).attr('y', 853).attr('dominant-baseline', 'central').attr('font-size', 22).attr('fill', '#ffffff').text(supportPrice.toFixed(5));

svg.append('rect').attr('x', 3511).attr('y', 62).attr('width', 131).attr('height', 52).attr('rx', 7).attr('fill', '#0c0c0e').attr('stroke', '#2a2e39').attr('stroke-width', 2);
svg.append('text').attr('x', 3528).attr('y', 88).attr('dominant-baseline', 'central').attr('font-size', 22).attr('fill', '#e6e6e6').text('USD');

svg.append('rect').attr('x', plotL).attr('y', 1574).attr('width', 53).attr('height', 48).attr('rx', 3).attr('fill', '#ffffff');
svg.append('text').attr('x', 25).attr('y', 1601).attr('dominant-baseline', 'central').attr('font-size', 23).attr('fill', '#111111').text("'17");

// header
svg.append('text').attr('x', 19).attr('y', 31).attr('dominant-baseline', 'central').attr('font-size', 24.5).attr('fill', '#d6d6d6')
  .text('egragcrypto created with TradingView.com, Aug 05, 2026 12:03 UTC');
const legendY = 85;
[['XRP / U.S. Dollar · 3D · Bitstamp', 35, '#b2b5be', 25], ['O', 403, '#b2b5be', 22], ['1.07250', 421, '#e5417d', 22], ['H', 518, '#b2b5be', 22], ['1.07584', 534, '#e5417d', 22],
 ['L', 633, '#b2b5be', 22], ['1.05921', 645, '#e5417d', 22], ['C', 742, '#b2b5be', 22], ['1.05996', 759, '#e5417d', 22], ['−0.01305 (−1.22%)', 857, '#e5417d', 22]].forEach(d => {
  svg.append('text').attr('x', d[1]).attr('y', legendY).attr('dominant-baseline', 'central').attr('font-size', d[3]).attr('fill', d[2]).text(d[0]);
});

// footer logo
const logo = svg.append('g').attr('transform', 'translate(23,1674)').attr('fill', '#d9d9d9');
logo.append('path').attr('d', 'M0 0H30V30H15V13H0Z');
logo.append('circle').attr('cx', 40).attr('cy', 6.5).attr('r', 6.5);
logo.append('path').attr('d', 'M48 0H60L47 30H34Z');
svg.append('text').attr('x', 97).attr('y', 1690).attr('dominant-baseline', 'central').attr('font-size', 44).attr('font-weight', 700).attr('fill', '#d9d9d9').text('TradingView');

</script>
</body>
</html>
